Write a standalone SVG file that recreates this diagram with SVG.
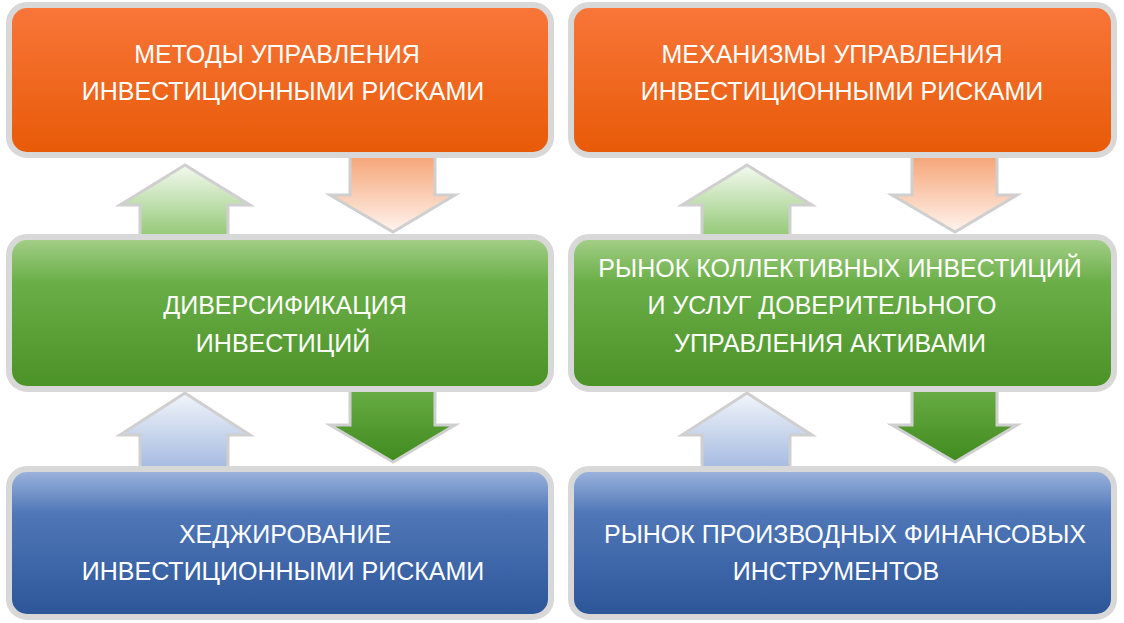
<svg xmlns="http://www.w3.org/2000/svg" width="1124" height="623" viewBox="0 0 1124 623">
<defs>
<linearGradient id="go" x1="0" y1="0" x2="0" y2="1"><stop offset="0" stop-color="#f9763a"/><stop offset="1" stop-color="#e75a06"/></linearGradient>
<linearGradient id="gg" x1="0" y1="0" x2="0" y2="1"><stop offset="0" stop-color="#a6d08a"/><stop offset="0.3" stop-color="#6aae47"/><stop offset="1" stop-color="#4a9126"/></linearGradient>
<linearGradient id="gb" x1="0" y1="0" x2="0" y2="1"><stop offset="0" stop-color="#9fb6de"/><stop offset="0.3" stop-color="#4f77b8"/><stop offset="1" stop-color="#2c5598"/></linearGradient>
<linearGradient id="ado" x1="0" y1="0" x2="0" y2="1"><stop offset="0" stop-color="#f5a070"/><stop offset="1" stop-color="#fff4ee"/></linearGradient>
<linearGradient id="aug" x1="0" y1="0" x2="0" y2="1"><stop offset="0" stop-color="#f4faf0"/><stop offset="1" stop-color="#8cc46c"/></linearGradient>
<linearGradient id="adg" x1="0" y1="0" x2="0" y2="1"><stop offset="0" stop-color="#6aae47"/><stop offset="1" stop-color="#3f8a1e"/></linearGradient>
<linearGradient id="aub" x1="0" y1="0" x2="0" y2="1"><stop offset="0" stop-color="#f2f5fb"/><stop offset="1" stop-color="#9fb6de"/></linearGradient>
</defs>
<style>
.box{stroke:#d8d8d8;stroke-width:6}
.ar{stroke:#cfcfcf;stroke-width:3}
text{font-family:"Liberation Sans",Arial,sans-serif;font-size:25px;fill:#fff;text-anchor:middle}
</style>
<rect width="1124" height="623" fill="#fff"/>
<g id="connectors">
<path class="ar" fill="url(#aug)" d="M140 242V205H120L185 165L250 205H228V242Z"/>
<path class="ar" fill="url(#ado)" d="M350 152V195H330L393 232L455 195H435V152Z"/>
<path class="ar" fill="url(#aub)" d="M140 474V435H120L185 393L250 435H228V474Z"/>
<path class="ar" fill="url(#adg)" d="M350 386V425H330L393 462L455 425H435V386Z"/>
<path class="ar" fill="url(#aug)" d="M702 242V205H682L747 165L812 205H790V242Z"/>
<path class="ar" fill="url(#ado)" d="M912 152V195H892L955 232L1017 195H997V152Z"/>
<path class="ar" fill="url(#aub)" d="M702 474V435H682L747 393L812 435H790V474Z"/>
<path class="ar" fill="url(#adg)" d="M912 386V425H892L955 462L1017 425H997V386Z"/>
</g>
<g id="n1"><rect class="box" x="9" y="5" width="542" height="150" rx="18" fill="url(#go)"/>
<text x="277" y="63">МЕТОДЫ УПРАВЛЕНИЯ</text><text x="283" y="100">ИНВЕСТИЦИОННЫМИ РИСКАМИ</text></g>
<g id="n2"><rect class="box" x="9" y="237" width="542" height="152" rx="18" fill="url(#gg)"/>
<text x="285" y="314">ДИВЕРСИФИКАЦИЯ</text><text x="283" y="352">ИНВЕСТИЦИЙ</text></g>
<g id="n3"><rect class="box" x="9" y="469" width="542" height="148" rx="18" fill="url(#gb)"/>
<text x="285" y="543">ХЕДЖИРОВАНИЕ</text><text x="283" y="580">ИНВЕСТИЦИОННЫМИ РИСКАМИ</text></g>
<g id="n4"><rect class="box" x="571" y="5" width="543" height="150" rx="18" fill="url(#go)"/>
<text x="832" y="63">МЕХАНИЗМЫ УПРАВЛЕНИЯ</text><text x="842" y="100">ИНВЕСТИЦИОННЫМИ РИСКАМИ</text></g>
<g id="n5"><rect class="box" x="571" y="237" width="543" height="152" rx="18" fill="url(#gg)"/>
<text x="840" y="277">РЫНОК КОЛЛЕКТИВНЫХ ИНВЕСТИЦИЙ</text><text x="822" y="314">И УСЛУГ ДОВЕРИТЕЛЬНОГО</text><text x="830" y="352">УПРАВЛЕНИЯ АКТИВАМИ</text></g>
<g id="n6"><rect class="box" x="571" y="469" width="543" height="148" rx="18" fill="url(#gb)"/>
<text x="845" y="543">РЫНОК ПРОИЗВОДНЫХ ФИНАНСОВЫХ</text><text x="836" y="580">ИНСТРУМЕНТОВ</text></g>
</svg>
